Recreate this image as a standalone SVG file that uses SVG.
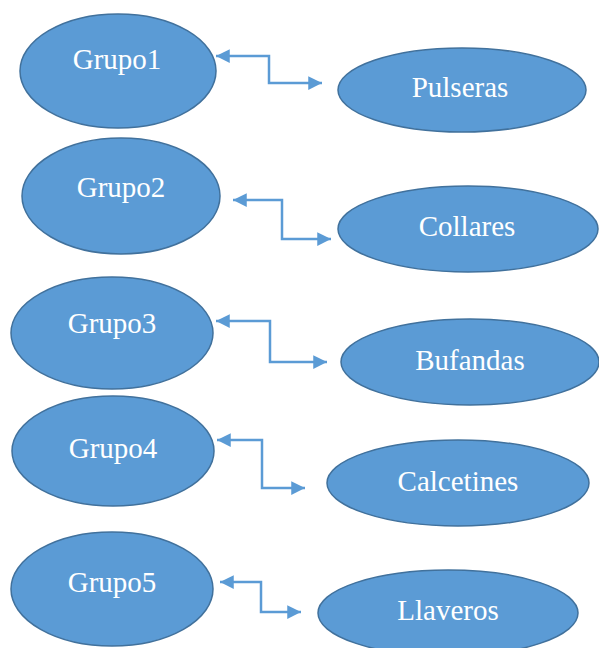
<svg xmlns="http://www.w3.org/2000/svg" width="599" height="648" viewBox="0 0 599 648">
<defs>
<style>
.n ellipse{fill:#5B9BD5;stroke:#41719C;stroke-width:1.5}
.n text{font-family:"Liberation Serif","Times New Roman",serif;font-size:29px;fill:#fff;text-anchor:middle}
.c path{fill:none;stroke:#5B9BD5;stroke-width:2.5;marker-start:url(#ah);marker-end:url(#ah)}
</style>
<marker id="ah" viewBox="0 0 10 10" refX="10" refY="5" markerWidth="5.5" markerHeight="5.5" markerUnits="strokeWidth" orient="auto-start-reverse">
<path d="M0,0 L10,5 L0,10 Z" fill="#5B9BD5"/>
</marker>
</defs>
<rect width="599" height="648" fill="#fff"/>
<g class="c" id="connectors">
<path d="M216,56 H269 V83 H322"/>
<path d="M233,200 H282 V239 H331"/>
<path d="M216,321 H270 V362 H327"/>
<path d="M217,440 H262 V488 H305"/>
<path d="M220,582 H261 V612 H301"/>
</g>
<g class="n" id="grupo1"><ellipse cx="118" cy="71" rx="98" ry="57"/><text x="117" y="69">Grupo1</text></g>
<g class="n" id="pulseras"><ellipse cx="462" cy="90" rx="124" ry="42"/><text x="460" y="97">Pulseras</text></g>
<g class="n" id="grupo2"><ellipse cx="121" cy="196" rx="99" ry="58"/><text x="121" y="197">Grupo2</text></g>
<g class="n" id="collares"><ellipse cx="468" cy="229" rx="130" ry="43"/><text x="467" y="236">Collares</text></g>
<g class="n" id="grupo3"><ellipse cx="112" cy="333" rx="101" ry="56"/><text x="112" y="333">Grupo3</text></g>
<g class="n" id="bufandas"><ellipse cx="470" cy="362" rx="129" ry="43"/><text x="470" y="370">Bufandas</text></g>
<g class="n" id="grupo4"><ellipse cx="113" cy="451" rx="101" ry="55"/><text x="113" y="458">Grupo4</text></g>
<g class="n" id="calcetines"><ellipse cx="458" cy="483" rx="131" ry="43"/><text x="458" y="491">Calcetines</text></g>
<g class="n" id="grupo5"><ellipse cx="112" cy="589" rx="101" ry="57"/><text x="112" y="592">Grupo5</text></g>
<g class="n" id="llaveros"><ellipse cx="448" cy="613" rx="130" ry="43"/><text x="448" y="620">Llaveros</text></g>
</svg>
